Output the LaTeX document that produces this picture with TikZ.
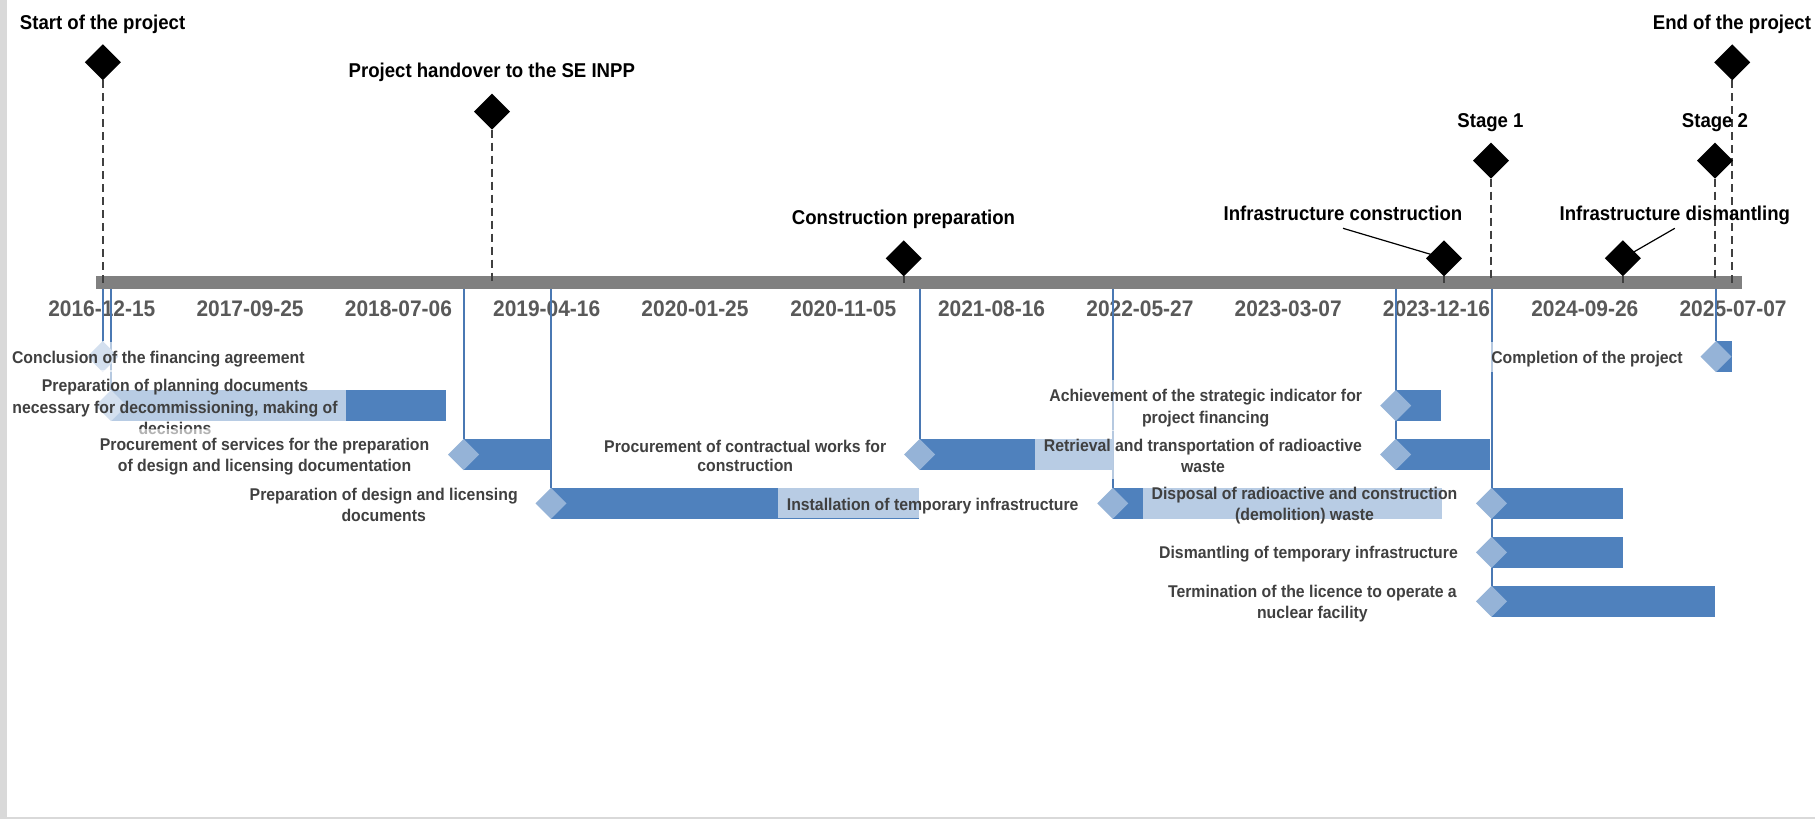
\documentclass[tikz,border=0pt]{standalone}
\usepackage{fontspec}
\setmainfont{Liberation Sans}[FakeStretch=0.93]
\usetikzlibrary{shapes.geometric,calc}
\definecolor{barblue}{HTML}{4F81BD}
\definecolor{diablue}{HTML}{95B3D7}
\definecolor{connblue}{HTML}{4A78B3}
\definecolor{axisgray}{HTML}{808080}
\definecolor{dategray}{HTML}{595959}
\definecolor{labgray}{HTML}{404040}
\definecolor{dashgray}{HTML}{404040}
\definecolor{framegray}{HTML}{D9D9D9}
\newcommand{\lstr}{\rule[-1.7pt]{0pt}{18.6pt}}
\pgfdeclarelayer{lbg}
\pgfdeclarelayer{lconn}
\pgfdeclarelayer{lbar}
\pgfdeclarelayer{llab}
\pgfdeclarelayer{ltop}
\pgfsetlayers{lbg,lconn,lbar,main,llab,ltop}
\begin{document}
\begin{tikzpicture}[x=1pt,y=-1pt,
  axis/.style={fill=axisgray, inner sep=0pt, outer sep=0pt, minimum width=1646pt, minimum height=13pt},
  msdia/.style={diamond, fill=black, inner sep=0pt, outer sep=0pt, minimum width=36pt, minimum height=36pt},
  mslab/.style={font=\fontsize{20}{22}\selectfont\bfseries, text=black, inner sep=0pt, text height=14.3pt, text depth=0pt},
  msline/.style={draw=dashgray, line width=2pt, dash pattern=on 8pt off 5pt},
  leader/.style={draw=black, line width=1.2pt},
  tkdia/.style={diamond, fill=diablue, inner sep=0pt, outer sep=0pt, minimum width=31pt, minimum height=31pt},
  tkbar/.style={fill=barblue},
  tklab/.style={fill=white, fill opacity=0.6, text opacity=1, text=labgray, align=center, font=\fontsize{17}{18.6}\selectfont\bfseries, inner xsep=8.5pt, inner ysep=4.7pt},
  datelab/.style={font=\fontsize{22.5}{24}\selectfont\bfseries, text=dategray, inner sep=0pt, text height=16pt, text depth=0pt},
  conn/.style={draw=connblue, line width=2pt},
  framestrip/.style={fill=framegray}
]
\useasboundingbox (0,0) rectangle (1815,819);

% ---------- background, axis, dates ----------
\begin{pgfonlayer}{lbg}
\fill[white] (0,0) rectangle (1815,819);
\node[axis] (tl) at (919,282.5) {};
\foreach \d [count=\i from 0] in {2016-12-15,2017-09-25,2018-07-06,2019-04-16,2020-01-25,2020-11-05,2021-08-16,2022-05-27,2023-03-07,2023-12-16,2024-09-26,2025-07-07}
  \node[datelab] (dt\i) at (101.8+148.3*\i,308) {\d};
\end{pgfonlayer}

% ---------- milestones ----------
\node[msdia] (mstart) at (102.8,62.3) {};
\node[mslab] (lstart) at (102.6,22.3) {Start of the project};
\node[msdia] (mhand) at (492,111.7) {};
\node[mslab] (lhand) at (491.8,70.7) {Project handover to the SE INPP};
\node[msdia] (mcons) at (903.7,258.3) {};
\node[mslab] (lcons) at (903.5,217.7) {Construction preparation};
\node[msdia] (minfc) at (1444,258.3) {};
\node[mslab] (linfc) at (1343,213.7) {Infrastructure construction};
\node[msdia] (minfd) at (1622.8,258.3) {};
\node[mslab] (linfd) at (1674.8,213.7) {Infrastructure dismantling};
\node[msdia] (mst1) at (1491,160.7) {};
\node[mslab] (lst1) at (1490.5,120) {Stage 1};
\node[msdia] (mst2) at (1715,160.7) {};
\node[mslab] (lst2) at (1715,120) {Stage 2};
\node[msdia] (mend) at (1732.2,62.3) {};
\node[mslab] (lend) at (1731.9,22.3) {End of the project};

% ---------- task diamonds ----------
\node[tkdia] (t1) at (102.7,356.6) {};
\node[tkdia] (t2) at (111,405.6) {};
\node[tkdia] (t3) at (463.5,454.5) {};
\node[tkdia] (t4) at (551,503.4) {};
\node[tkdia] (t5) at (919.7,454.5) {};
\node[tkdia] (t6) at (1112.8,503.4) {};
\node[tkdia] (t7) at (1395.7,405.6) {};
\node[tkdia] (t8) at (1395.7,454.5) {};
\node[tkdia] (t9) at (1491.5,503.4) {};
\node[tkdia] (t10) at (1491.5,552.3) {};
\node[tkdia] (t11) at (1491.5,601.3) {};
\node[tkdia] (t12) at (1716,356.6) {};

% ---------- connectors ----------
\begin{pgfonlayer}{lconn}
\foreach \m in {mstart,mhand,mcons,minfc,minfd,mst1,mst2,mend}
  \draw[msline] (\m.south) -- (\m.south |- tl.center);
\draw[leader] ($(linfc.center)+(0,14.6)$) -- (minfc.center);
\draw[leader] ($(linfd.center)+(0,14.6)$) -- (minfd.center);
\foreach \t in {t1,t2,t3,t4,t5,t6,t8,t11,t12}
  \draw[conn] (\t |- tl.south) -- (\t.north);
\end{pgfonlayer}

% ---------- bars ----------
\begin{pgfonlayer}{lbar}
\fill[tkbar] (111,389.85) rectangle (446,421.35);
\fill[tkbar] (463.5,438.75) rectangle (551,470.25);
\fill[tkbar] (551,487.65) rectangle (919,519.15);
\fill[tkbar] (919.7,438.75) rectangle (1113,470.25);
\fill[tkbar] (1113,487.65) rectangle (1442,519.15);
\fill[tkbar] (1395.7,389.85) rectangle (1441,421.35);
\fill[tkbar] (1395.7,438.75) rectangle (1490,470.25);
\fill[tkbar] (1491.5,487.65) rectangle (1623,519.15);
\fill[tkbar] (1491.5,536.55) rectangle (1623,568.05);
\fill[tkbar] (1491.5,585.55) rectangle (1715.3,617.05);
\fill[tkbar] (1716,340.85) rectangle (1731.7,372.35);
\end{pgfonlayer}

% ---------- task labels ----------
\begin{pgfonlayer}{llab}
\node[tklab] (l1) at (158.3,356.6) {\lstr Conclusion of the financing agreement};
\node[tklab] (l2) at (175,405.6) {\lstr Preparation of planning documents\\\lstr necessary for decommissioning, making of\\\lstr decisions};
\node[tklab] (l3) at (264.6,454.5) {\lstr Procurement of services for the preparation\\\lstr of design and licensing documentation};
\node[tklab] (l4) at (383.7,503.4) {\lstr Preparation of design and licensing\\\lstr documents};
\node[tklab] (l5) at (745.2,454.5) {\lstr Procurement of contractual works for\\\lstr construction};
\node[tklab] (l6) at (932.7,503.4) {\lstr Installation of temporary infrastructure};
\node[tklab] (l7) at (1205.7,405.6) {\lstr Achievement of the strategic indicator for\\\lstr project financing};
\node[tklab] (l8) at (1203,454.5) {\lstr Retrieval and transportation of radioactive\\\lstr waste};
\node[tklab] (l9) at (1304.5,503.4) {\lstr Disposal of radioactive and construction\\\lstr (demolition) waste};
\node[tklab] (l10) at (1308.5,552.3) {\lstr Dismantling of temporary infrastructure};
\node[tklab] (l11) at (1312.4,601.3) {\lstr Termination of the licence to operate a\\\lstr nuclear facility};
\node[tklab] (l12) at (1587,356.6) {\lstr Completion of the project};
\end{pgfonlayer}

% ---------- frame ----------
\begin{pgfonlayer}{ltop}
\fill[framestrip] (0,0) rectangle (7,819);
\fill[framestrip] (0,816.7) rectangle (1815,819);
\end{pgfonlayer}
\end{tikzpicture}
\end{document}
